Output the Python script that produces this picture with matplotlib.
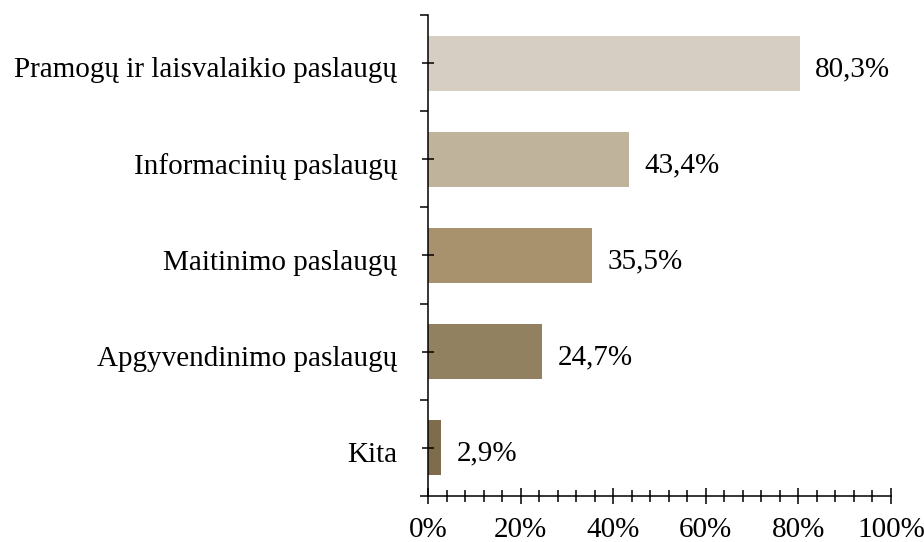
import numpy as np
import matplotlib.pyplot as plt

# data, top to bottom
categories = ["Pramogų ir laisvalaikio paslaugų", "Informacinių paslaugų",
              "Maitinimo paslaugų", "Apgyvendinimo paslaugų", "Kita"]
values = [80.3, 43.4, 35.5, 24.7, 2.9]
colors = ["#D6CEC2", "#C0B39C", "#A8926D", "#928160", "#7E6C4C"]
x_ticks = [0, 20, 40, 60, 80, 100]

plt.rcParams['font.family'] = ['Liberation Serif', 'DejaVu Serif']
FS = 21

fig = plt.figure(figsize=(9.24, 5.42), dpi=100)
ax = fig.add_axes([428/924, 1-496/542, (891-428)/924, (496-15)/542])

y = np.arange(len(categories))
ax.barh(y, values, height=0.57, color=colors)

for yi, v in zip(y, values):
    ax.annotate(f"{v:.1f}%".replace(".", ","), (v, yi), xytext=(11, -2),
                textcoords="offset points", va="center_baseline", ha="left",
                fontsize=FS)

# category labels left of the axis
for yi, cat in zip(y, categories):
    ax.annotate(cat, (0, yi), xycoords=("axes fraction", "data"),
                xytext=(-22.3, -3), textcoords="offset points",
                va="center_baseline", ha="right", fontsize=FS)

ax.set_xlim(0, 100)
ax.set_ylim(len(categories) - 0.5, -0.5)

# x axis ticks
ax.set_xticks(x_ticks, [f"{t}%" for t in x_ticks])
ax.set_xticks(np.arange(0, 101, 4), minor=True)
ax.tick_params(axis="x", which="major", direction="inout", length=11, width=1.1,
               labelsize=FS, pad=9.5)
ax.tick_params(axis="x", which="minor", direction="inout", length=8, width=1.1)

# y axis: boundary ticks (major) and centre ticks (minor)
ax.set_yticks(np.arange(-0.5, len(categories), 1.0), [""] * (len(categories) + 1))
ax.set_yticks(y, [""] * len(categories), minor=True)
ax.tick_params(axis="y", which="major", direction="out", length=6, width=1.1)
ax.tick_params(axis="y", which="minor", direction="inout", length=8, width=1.1)

for s in ["top", "right"]:
    ax.spines[s].set_visible(False)
for s in ["left", "bottom"]:
    ax.spines[s].set_linewidth(1.1)

fig.savefig("out.png", dpi=100)
